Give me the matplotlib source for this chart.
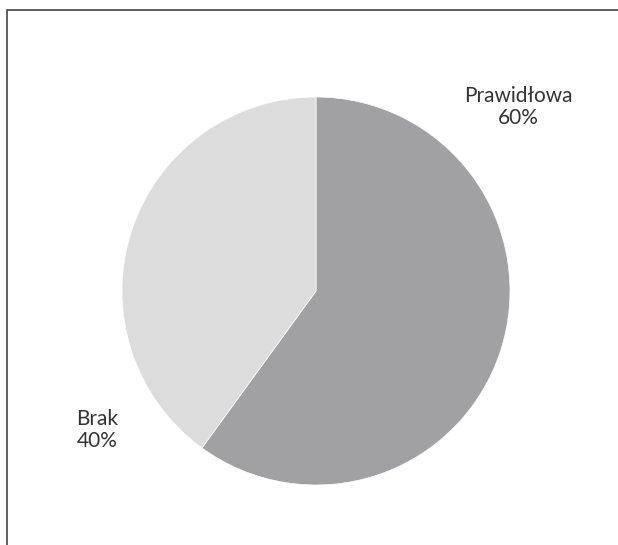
import matplotlib
matplotlib.use("Agg")
import matplotlib.pyplot as plt
from matplotlib.patches import Rectangle

labels = ["Prawidłowa", "Brak"]
shares = [60, 40]
colors = ["#a1a1a3", "#dcdcdc"]

fig = plt.figure(figsize=(6.18, 5.45), dpi=100)
fig.patch.set_facecolor("white")

# frame: only top and left edges visible
fig.add_artist(Rectangle((7 / 618, -0.1), 1.2, 1 - 10 / 545 + 0.1,
                         transform=fig.transFigure, fill=False,
                         edgecolor="#444444", lw=1.2))

# pie axes: center (316, 291), radius 194 px
r, cx, cy = 194, 316, 291
ax = fig.add_axes([(cx - r) / 618, 1 - (cy + r) / 545, 2 * r / 618, 2 * r / 545])
ax.pie(shares, colors=colors, startangle=90, counterclock=False,
       wedgeprops=dict(edgecolor="white", linewidth=0.5))
ax.set_xlim(-1, 1)
ax.set_ylim(-1, 1)
ax.set_aspect("auto")

txt = dict(ha="center", va="center", fontsize=15, color="#333333",
           family="Lato", linespacing=1.15)
for name, val, (x, y) in zip(labels, shares, [(518, 107), (97, 430)]):
    fig.text(x / 618, 1 - y / 545, f"{name}\n{val}%", **txt)

fig.savefig("out.png", dpi=100, facecolor="white")
